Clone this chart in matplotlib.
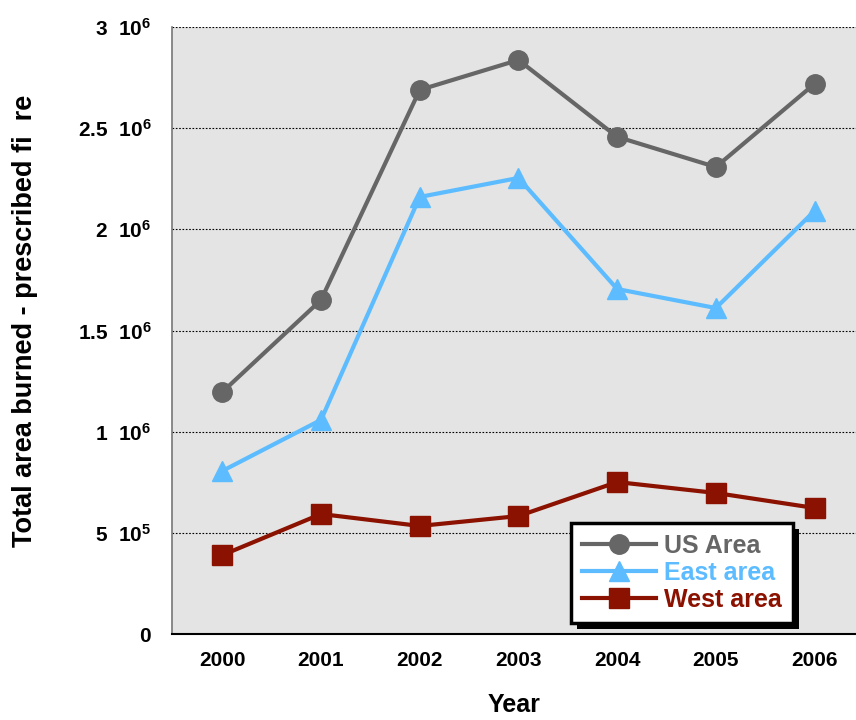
import matplotlib
matplotlib.use('Agg')
import matplotlib.pyplot as plt
from matplotlib.patches import Rectangle

plt.rcParams['font.family'] = ['Liberation Sans', 'DejaVu Sans']
plt.rcParams['font.weight'] = 'bold'
plt.rcParams['mathtext.fontset'] = 'custom'
plt.rcParams['mathtext.rm'] = 'Liberation Sans:bold'
plt.rcParams['mathtext.default'] = 'rm'

# data
years = [2000, 2001, 2002, 2003, 2004, 2005, 2006]
us_area = [1.196e6, 1.651e6, 2.689e6, 2.837e6, 2.457e6, 2.308e6, 2.719e6]
east_area = [0.806e6, 1.058e6, 2.160e6, 2.254e6, 1.705e6, 1.611e6, 2.091e6]
west_area = [0.390e6, 0.593e6, 0.534e6, 0.583e6, 0.751e6, 0.697e6, 0.623e6]

yticks = [0, 0.5e6, 1e6, 1.5e6, 2e6, 2.5e6, 3e6]
ytick_labels = ['0', r'5  10$^{5}$', r'1  10$^{6}$', r'1.5  10$^{6}$',
                r'2  10$^{6}$', r'2.5  10$^{6}$', r'3  10$^{6}$']

fig = plt.figure(figsize=(8.56, 7.2), dpi=100)
ax = fig.add_axes([172/856, 1 - 634/720, 1 - 172/856, (634 - 27)/720])
ax.set_facecolor('#e3e4e3')

for v in yticks[1:]:
    ax.axhline(v, color='black', linestyle=(0, (1.5, 1.5)), linewidth=0.8, zorder=1)

ax.plot(years, us_area, '-o', color='#666666', linewidth=3, markersize=14,
        label='US Area', zorder=3)
ax.plot(years, east_area, '-^', color='#5cbcff', linewidth=3, markersize=15,
        label='East area', zorder=3)
ax.plot(years, west_area, '-s', color='#8b1100', linewidth=3, markersize=14,
        label='West area', zorder=3)

ax.set_xlim(1999.49, 2006.42)
ax.set_ylim(0, 3e6)
ax.set_xticks(years)
ax.set_xticklabels([str(y) for y in years], fontsize=15, fontweight='bold')
ax.set_yticks(yticks)
ax.set_yticklabels(ytick_labels, fontsize=15, fontweight='bold')
ax.tick_params(axis='y', length=0, pad=15)
ax.tick_params(axis='x', length=0, pad=12)

for s in ['top', 'right']:
    ax.spines[s].set_visible(False)
ax.spines['left'].set_color('#777777')
ax.spines['left'].set_linewidth(1.2)
ax.spines['bottom'].set_color('black')
ax.spines['bottom'].set_linewidth(1.5)

fig.text(514/856, 1 - 705/720, 'Year', fontsize=18, fontweight='bold',
         ha='center', va='center')
fig.text(25/856, 1 - 321/720, 'Total area burned - prescribed fi  re',
         fontsize=19.5, fontweight='bold', rotation=90, ha='center', va='center')

leg = ax.legend(loc='lower right', bbox_to_anchor=(793/856, 1 - 623/720),
                bbox_transform=fig.transFigure, borderaxespad=0,
                fontsize=18, handlelength=2.95, handletextpad=0.32,
                labelspacing=0.12, borderpad=0.45, fancybox=False,
                framealpha=1, edgecolor='black')
leg.get_frame().set_linewidth(2.5)
for txt, line in zip(leg.get_texts(), leg.get_lines()):
    txt.set_color(line.get_color())
    txt.set_fontweight('bold')
leg.set_zorder(5)

# hard shadow behind legend
fig.canvas.draw()
bb = leg.get_window_extent().transformed(fig.transFigure.inverted())
shadow = Rectangle((bb.x0 + 6/856, bb.y0 - 6/720), bb.width, bb.height,
                   transform=fig.transFigure, facecolor='black',
                   edgecolor='none', zorder=4)
ax.add_artist(shadow)
shadow.set_clip_on(False)

plt.savefig('out.png', dpi=100)
